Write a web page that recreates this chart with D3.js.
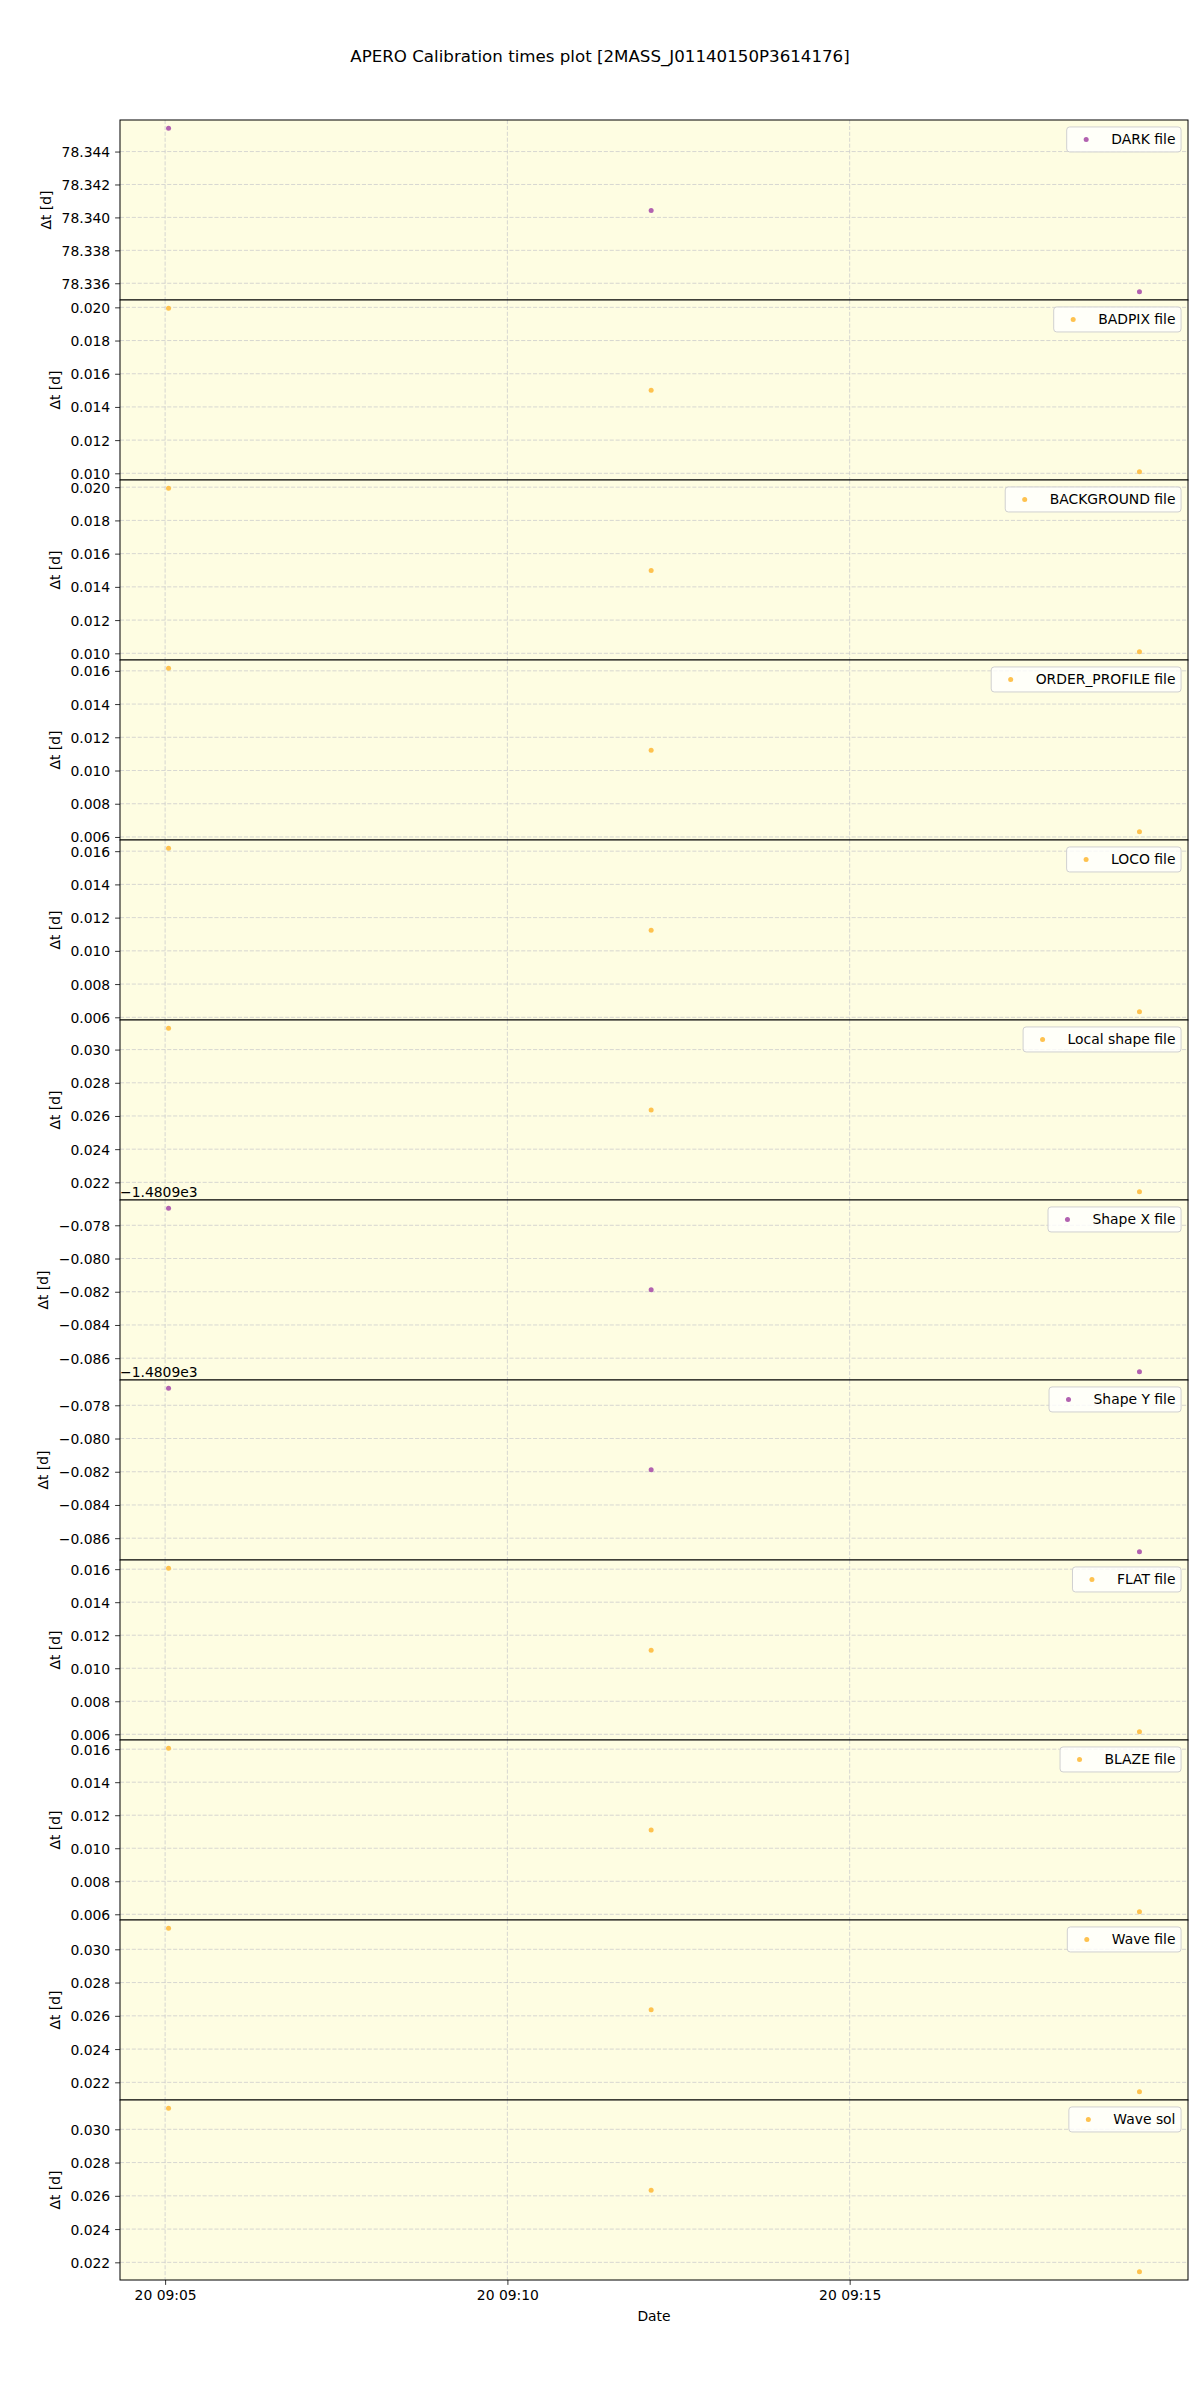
<!DOCTYPE html>
<html><head><meta charset="utf-8">
<script src="https://cdn.jsdelivr.net/npm/d3@7"></script>
<style>
body{margin:0;background:#fff}
text{font-family:"DejaVu Sans",sans-serif;fill:#000}
</style>
</head><body>
<svg id="chart" width="1200" height="2400"></svg>
<script>
// ---------------- data ----------------
const titleText = "APERO Calibration times plot [2MASS_J01140150P3614176]";
const xLabelText = "Date";
const yLabelText = "Δt [d]";
const obsTimes = ["2023-08-20T09:05:03Z", "2023-08-20T09:12:06Z", "2023-08-20T09:19:14Z"];
const panelNames = ["DARK file", "BADPIX file", "BACKGROUND file", "ORDER_PROFILE file",
  "LOCO file", "Local shape file", "Shape X file", "Shape Y file", "FLAT file",
  "BLAZE file", "Wave file", "Wave sol"];
const panelColors = ["purple", "orange", "orange", "orange", "orange", "orange",
  "purple", "purple", "orange", "orange", "orange", "orange"];
const darkFile = [78.34542, 78.34042, 78.33548];
const badpixFile = [0.01995, 0.01500, 0.01009];
const backgroundFile = [0.01994, 0.01498, 0.01009];
const orderProfileFile = [0.01616, 0.01122, 0.00631];
const locoFile = [0.01618, 0.01124, 0.00633];
const localShapeFile = [0.03129, 0.02636, 0.02143];
const shapeXFile = [-1480.97697, -1480.98188, -1480.98682];
const shapeYFile = [-1480.97697, -1480.98188, -1480.98682];
const flatFile = [0.01606, 0.01109, 0.00615];
const blazeFile = [0.01606, 0.01111, 0.00615];
const waveFile = [0.03127, 0.02636, 0.02143];
const waveSol = [0.03127, 0.02634, 0.02143];
const panelValues = [darkFile, badpixFile, backgroundFile, orderProfileFile, locoFile,
  localShapeFile, shapeXFile, shapeYFile, flatFile, blazeFile, waveFile, waveSol];
const yOffsets = [0, 0, 0, 0, 0, 0, -1480.9, -1480.9, 0, 0, 0, 0];
const offsetLabels = ["", "", "", "", "", "", "−1.4809e3", "−1.4809e3", "", "", "", ""];
const xTickFormat = "%d %H:%M";

// ---------------- style ----------------
const colorMap = {purple: "#b262b0", orange: "#fec24f"};
const bgColor = "#fefde2";
const gridColor = "#cdcdcd";
const FS = 13.9;
const L = 120, R = 1188, T = 120, PH = 180;

const svg = d3.select("#chart");
svg.append("rect").attr("width", 1200).attr("height", 2400).attr("fill", "#fff");

svg.append("text").attr("x", 600).attr("y", 62).attr("text-anchor", "middle")
  .style("font-size", "16.67px").text(titleText);

const times = obsTimes.map(d => new Date(d));
const tExt = d3.extent(times);
const tPad = (tExt[1] - tExt[0]) * 0.05;
const x = d3.scaleUtc().domain([new Date(+tExt[0] - tPad), new Date(+tExt[1] + tPad)]).range([L, R]);
const xTicks = x.ticks(d3.utcMinute.every(5));
const fmtX = d3.utcFormat(xTickFormat);
const fmtY = d3.format(".3f");

panelNames.forEach((name, i) => {
  const top = T + i * PH, bot = top + PH;
  const vals = panelValues[i];
  const ext = d3.extent(vals);
  const pad = (ext[1] - ext[0]) * 0.05;
  const y = d3.scaleLinear().domain([ext[0] - pad, ext[1] + pad]).range([bot, top]);
  const g = svg.append("g");
  g.append("rect").attr("x", L).attr("y", top).attr("width", R - L).attr("height", PH).attr("fill", bgColor);

  const yt = y.ticks(5).filter(v => y(v) >= top - 0.5 && y(v) <= bot + 0.5);
  // grid
  g.selectAll(".hg").data(yt).join("line")
    .attr("x1", L).attr("x2", R).attr("y1", d => y(d)).attr("y2", d => y(d))
    .attr("stroke", gridColor).attr("stroke-width", 0.8).attr("stroke-dasharray", "4.1,1.8");
  g.selectAll(".vg").data(xTicks).join("line")
    .attr("x1", d => x(d)).attr("x2", d => x(d)).attr("y1", top).attr("y2", bot)
    .attr("stroke", gridColor).attr("stroke-width", 0.8).attr("stroke-dasharray", "4.1,1.8");

  // y axis
  const ax = g.append("g").attr("transform", `translate(${L},0)`)
    .call(d3.axisLeft(y).tickValues(yt).tickSize(4.9).tickPadding(4.9)
      .tickFormat(d => fmtY(d - yOffsets[i])));
  ax.select(".domain").remove();
  ax.selectAll("line").attr("stroke", "#000").attr("stroke-width", 0.8);
  ax.selectAll("text").style("font-size", FS + "px").style("font-family", "DejaVu Sans")
    .attr("dy", "0.36em");
  let minLeft = 1e9;
  ax.selectAll("text").each(function () { const b = this.getBBox(); minLeft = Math.min(minLeft, L + b.x); });
  g.append("text").attr("transform", `translate(${minLeft - 15.5},${(top + bot) / 2}) rotate(-90)`)
    .attr("text-anchor", "middle").attr("dominant-baseline", "central")
    .style("font-size", FS + "px").text(yLabelText);

  // points
  g.selectAll(".pt").data(vals).join("circle")
    .attr("cx", (d, j) => x(times[j])).attr("cy", d => y(d)).attr("r", 2.5)
    .attr("fill", colorMap[panelColors[i]]);

  // legend
  const lg = g.append("g");
  const box = lg.append("rect").attr("fill", "#ffffff").attr("fill-opacity", 0.8)
    .attr("stroke", "#d0d0d0").attr("stroke-width", 1).attr("rx", 3);
  const lt = lg.append("text").style("font-size", FS + "px").text(name);
  const tw = lt.node().getComputedTextLength();
  const bw = tw + 3.6 * FS, bh = 25;
  const bx = R - 0.5 * FS - bw, by = top + 0.5 * FS;
  box.attr("x", bx).attr("y", by).attr("width", bw).attr("height", bh);
  lt.attr("x", bx + 3.2 * FS).attr("y", by + bh / 2).attr("dy", "0.36em");
  lg.append("circle").attr("cx", bx + 1.4 * FS).attr("cy", by + bh / 2).attr("r", 2.5)
    .attr("fill", colorMap[panelColors[i]]);

  // offset text
  if (offsetLabels[i]) {
    g.append("text").attr("x", L).attr("y", top - 3.5).style("font-size", FS + "px").text(offsetLabels[i]);
  }

  // spine
  g.append("rect").attr("x", L).attr("y", top).attr("width", R - L).attr("height", PH)
    .attr("fill", "none").attr("stroke", "#000").attr("stroke-width", 1);

  if (i === panelNames.length - 1) {
    const xa = g.append("g").attr("transform", `translate(0,${bot})`)
      .call(d3.axisBottom(x).tickValues(xTicks).tickSize(4.9).tickPadding(4.9).tickFormat(fmtX));
    xa.select(".domain").remove();
    xa.selectAll("line").attr("stroke", "#000").attr("stroke-width", 0.8);
    xa.selectAll("text").style("font-size", FS + "px").style("font-family", "DejaVu Sans")
      .attr("dy", "0.76em");
    g.append("text").attr("x", (L + R) / 2).attr("y", bot + 40.5).attr("text-anchor", "middle")
      .style("font-size", FS + "px").text(xLabelText);
  }
});
</script>
</body></html>
